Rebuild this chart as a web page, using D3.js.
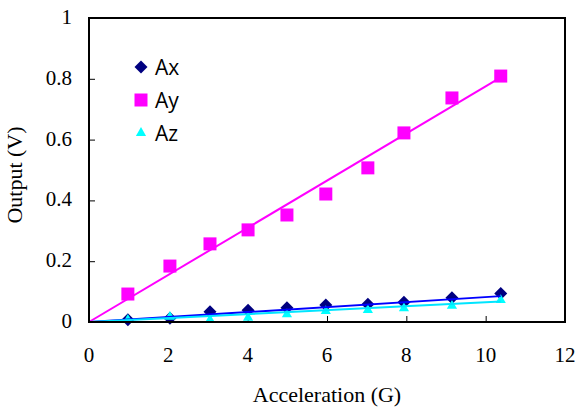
<!DOCTYPE html>
<html>
<head>
<meta charset="utf-8">
<script src="https://cdn.jsdelivr.net/npm/d3@7"></script>
<style>
    body { margin: 0; background: #fff; }
    svg { display: block; }
</style>
</head>
<body>
<div id="chart"></div>
<script>
// readings
var accel = [0.98, 2.04, 3.05, 4.01, 4.99, 5.97, 7.03, 7.94, 9.15, 10.38],
    ax = [0.007, 0.012, 0.034, 0.039, 0.047, 0.056, 0.058, 0.065, 0.080, 0.094],
    ay = [0.092, 0.184, 0.257, 0.303, 0.352, 0.421, 0.507, 0.622, 0.737, 0.809],
    az = [0.007, 0.017, 0.007, 0.014, 0.025, 0.036, 0.039, 0.045, 0.053, 0.072],
    // trendline slopes (V per G)
    trendSlopes = [0.0082, 0.0775, 0.0065],
    seriesNames = ["Ax", "Ay", "Az"],
    xTicks = [0, 2, 4, 6, 8, 10, 12],
    yTicks = [0, 0.2, 0.4, 0.6, 0.8, 1];

var width = 578,
    height = 407,
    margin = { top: 18, right: 13, bottom: 85, left: 89 },
    serif = "'Liberation Serif', 'Times New Roman', serif";

var series = [
    { name: seriesNames[0], values: ax, slope: trendSlopes[0], fill: "#000080", line: "#0000ff", shape: "diamond" },
    { name: seriesNames[1], values: ay, slope: trendSlopes[1], fill: "#ff00ff", line: "#ff00ff", shape: "square" },
    { name: seriesNames[2], values: az, slope: trendSlopes[2], fill: "#00ffff", line: "#00e5ff", shape: "triangle" }
];

var svg = d3.select("#chart").append("svg")
    .attr("width", width)
    .attr("height", height);

var x = d3.scaleLinear().domain([0, 12]).range([margin.left, width - margin.right]),
    y = d3.scaleLinear().domain([0, 1]).range([height - margin.bottom, margin.top]);

// marker path per shape, size is the visible width in px
function marker(shape, size) {
    if (shape === "square") {
        return d3.symbol(d3.symbolSquare, size * size)();
    }
    if (shape === "diamond") {
        var s = size / Math.SQRT2;
        return d3.symbol(d3.symbolSquare, s * s)();
    }
    return d3.symbol(d3.symbolTriangle, size * size * 0.45)();
}

function markerTransform(shape, px, py) {
    return "translate(" + px + "," + py + ")" + (shape === "diamond" ? " rotate(45)" : "");
}

// ticks (inside)
svg.append("g")
    .attr("transform", "translate(0," + y(0) + ")")
    .call(d3.axisTop(x).tickValues(xTicks).tickSize(6).tickFormat(""))
    .call(function (g) { g.select(".domain").remove(); });

svg.append("g")
    .attr("transform", "translate(" + x(0) + ",0)")
    .call(d3.axisRight(y).tickValues(yTicks).tickSize(6).tickFormat(""))
    .call(function (g) { g.select(".domain").remove(); });

// tick labels
svg.append("g").selectAll("text")
    .data(xTicks)
    .enter().append("text")
    .attr("x", function (d) { return x(d); })
    .attr("y", 362)
    .attr("text-anchor", "middle")
    .style("font-family", serif)
    .style("font-size", "21px")
    .text(function (d) { return d; });

svg.append("g").selectAll("text")
    .data(yTicks)
    .enter().append("text")
    .attr("x", 72)
    .attr("y", function (d) { return y(d) + 6; })
    .attr("text-anchor", "end")
    .style("font-family", serif)
    .style("font-size", "21px")
    .text(function (d) { return d; });

// axis titles
svg.append("text")
    .attr("x", (x(0) + x(12)) / 2)
    .attr("y", 402)
    .attr("text-anchor", "middle")
    .style("font-family", serif)
    .style("font-size", "22px")
    .text("Acceleration (G)");

svg.append("text")
    .attr("transform", "translate(22," + (y(0.5) + 5) + ") rotate(-90)")
    .attr("text-anchor", "middle")
    .style("font-family", serif)
    .style("font-size", "22px")
    .text("Output (V)");

// markers
series.forEach(function (s) {
    svg.append("g").selectAll("path")
        .data(s.values)
        .enter().append("path")
        .attr("d", marker(s.shape, s.shape === "triangle" ? 10 : 13))
        .attr("transform", function (d, i) { return markerTransform(s.shape, x(accel[i]), y(d)); })
        .attr("fill", s.fill);
});

// trendlines on top, from the origin to the last reading
series.forEach(function (s) {
    var xmax = d3.max(accel);
    svg.append("line")
        .attr("x1", x(0))
        .attr("y1", y(0))
        .attr("x2", x(xmax))
        .attr("y2", y(s.slope * xmax))
        .attr("stroke", s.line)
        .attr("stroke-width", 2);
});

// plot border
svg.append("rect")
    .attr("x", x(0))
    .attr("y", y(1))
    .attr("width", x(12) - x(0))
    .attr("height", y(0) - y(1))
    .attr("fill", "none")
    .attr("stroke", "#000")
    .attr("stroke-width", 2);

// legend
var legend = svg.append("g").selectAll("g")
    .data(series)
    .enter().append("g")
    .attr("transform", function (d, i) { return "translate(141," + (67 + i * 33) + ")"; });

legend.append("path")
    .attr("d", function (d) { return marker(d.shape, d.shape === "triangle" ? 10 : 13); })
    .attr("transform", function (d) { return d.shape === "diamond" ? "rotate(45)" : null; })
    .attr("fill", function (d) { return d.fill; });

legend.append("text")
    .attr("x", 14)
    .attr("y", 8)
    .style("font-family", "'Open Sans', sans-serif")
    .style("font-size", "21px")
    .text(function (d) { return d.name; });
</script>
</body>
</html>
